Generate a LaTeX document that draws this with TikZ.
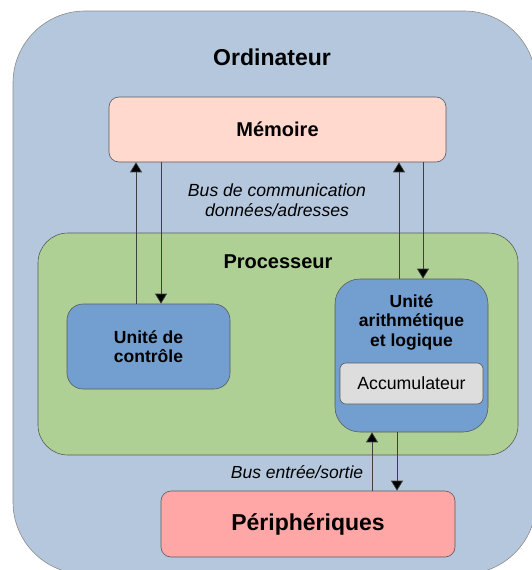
\documentclass[tikz,border=0pt]{standalone}
\usepackage{fontspec}
\setmainfont{Liberation Sans}
\usetikzlibrary{arrows.meta,positioning}
\definecolor{shell}{HTML}{B4C7DC}
\definecolor{memfill}{HTML}{FFD8CE}
\definecolor{cpufill}{HTML}{AFD095}
\definecolor{unitfill}{HTML}{729FCF}
\definecolor{accfill}{HTML}{DDDDDD}
\definecolor{perifill}{HTML}{FFA6A6}
\definecolor{edge}{HTML}{5A5A5A}
\newcommand{\fs}[1]{\fontsize{#1}{#1}\selectfont}
\tikzset{
  box/.style={draw=edge,line width=0.6pt,inner sep=0pt},
  bus/.style={draw=edge!70!black,line width=0.7pt,-{Triangle[length=10pt,width=12pt,fill=black]}},
  title/.style={font=\fs{20}\bfseries,text=black},
  unitlabel/.style={font=\fontsize{17.5}{19.5}\selectfont\bfseries,align=center}
}

\begin{document}
\begin{tikzpicture}[x=1pt,y=-1pt]
    \useasboundingbox (0,0) rectangle (531,570);
    % outer frame, cut by the page on the right and at the bottom
    \draw[box,fill=shell,draw=edge!70,rounded corners=72pt] (13,11) rectangle (536,574);
    \node[font=\fs{23}\bfseries] (ord) at (272,57) {Ordinateur};

    \node[box,fill=memfill,rounded corners=10pt,minimum width=337pt,minimum height=65pt,title] (mem) at (277.5,129.5) {Mémoire};
    \node[font=\fontsize{17.6}{20}\selectfont\itshape,align=center] (busmem) at (277,200) {Bus de communication\\données/adresses};

    \node[box,fill=cpufill,rounded corners=30pt,minimum width=480pt,minimum height=222pt] (cpu) at (278,344) {};
    \node[title] (cpulbl) at (278,262) {Processeur};

    \node[box,fill=unitfill,rounded corners=16pt,minimum width=163pt,minimum height=85pt,unitlabel] (ctrl) at (148.5,346.5) {Unité de\\contrôle};
    \node[box,fill=unitfill,rounded corners=25pt,minimum width=153pt,minimum height=153pt] (alu) at (411.5,355.5) {};
    \node[unitlabel] (alulbl) at ([yshift=33.5pt]alu.center) {Unité\\arithmétique\\et logique};
    \node[box,fill=accfill,rounded corners=6pt,minimum width=143pt,minimum height=41pt,font=\fs{17.7}] (acc) at (411.5,383.5) {Accumulateur};

    \node[box,fill=perifill,rounded corners=10pt,minimum width=294pt,minimum height=66pt,font=\fs{23}\bfseries] (peri) at (308,524) {Périphériques};
    \node[font=\fs{17.5}\itshape] (busio) at (297,472) {Bus entrée/sortie};

    % data/address bus between memory and the two units
    \foreach \u/\dx in {ctrl/-12.5,alu/-12.5}
      \draw[bus] ([xshift=\dx pt]\u.north) -- ([xshift=\dx pt]\u.north |- mem.south);
    \foreach \u/\dx in {ctrl/12.5,alu/11.5}
      \draw[bus] ([xshift=\dx pt]\u.north |- mem.south) -- ([xshift=\dx pt]\u.north);
    % input/output bus
    \draw[bus] ([xshift=64pt]peri.north) -- ([xshift=64pt]peri.north |- alu.south);
    \draw[bus] ([xshift=89pt]peri.north |- alu.south) -- ([xshift=89pt]peri.north);
\end{tikzpicture}
\end{document}
